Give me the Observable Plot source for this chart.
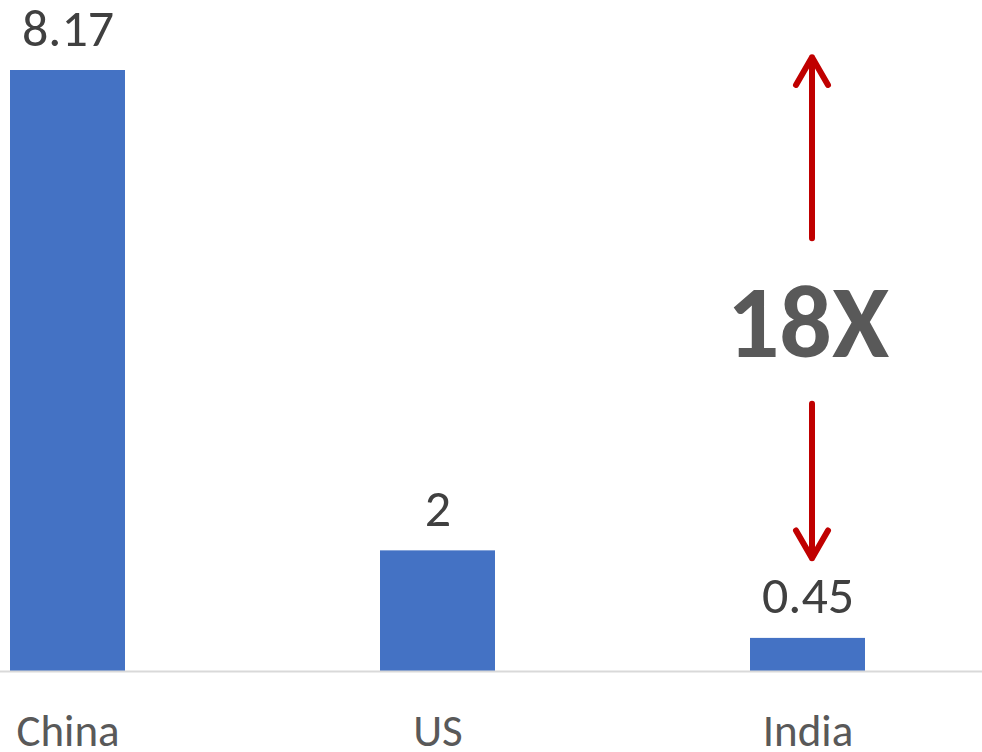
<!DOCTYPE html>
<html>
<head>
<meta charset="utf-8">
<script src="https://cdn.jsdelivr.net/npm/d3@7"></script>
<script src="https://cdn.jsdelivr.net/npm/@observablehq/plot@0.6"></script>
<style>
  html, body { margin: 0; padding: 0; background: #fff; }
  #chart svg { display: block; }
</style>
</head>
<body>
<div id="chart"></div>
<script>
// Categories and values
const categories = ["China", "US", "India"];
// bar heights as drawn in the reference
const barValues = [8.17, 1.64, 0.45];
// value labels as printed on the reference
const valueLabels = ["8.17", "2", "0.45"];

// Annotation (in data units, placed at the India category)
const annotationLabel = ["18X"];
const annotationY = [4.73];
const arrowFrom = [5.89, 3.64];
const arrowTo = [8.35, 1.54];

const bars = categories.map((c, i) => ({category: c, value: barValues[i], label: valueLabels[i]}));
const arrows = arrowFrom.map((f, i) => ({category: "India", y1: f, y2: arrowTo[i]}));
const notes = annotationLabel.map((t, i) => ({category: "India", y: annotationY[i], text: t}));

const font = "Carlito, Calibri, Lato, sans-serif";

const chart = Plot.plot({
  width: 982,
  height: 752,
  marginTop: 70,
  marginBottom: 81,
  marginLeft: 0,
  marginRight: 0,
  style: {fontFamily: font, background: "#ffffff"},
  x: {domain: categories, paddingInner: 0.688, paddingOuter: 0.169, align: 0.076, label: null},
  y: {domain: [0, 8.17], axis: null},
  marks: [
    Plot.barY(bars, {x: "category", y: "value", fill: "#4472C4"}),
    Plot.ruleY([0], {stroke: "#D9D9D9", strokeWidth: 2}),
    Plot.text(bars, {x: "category", y: "value", text: "label", lineAnchor: "bottom", dy: -25, fontSize: 52, fill: "#404040"}),
    Plot.axisX({tickSize: 0, tickPadding: 43, fontSize: 45, color: "#595959", label: null}),
    Plot.arrow(arrows, {x: "category", y1: "y1", y2: "y2", stroke: "#C00000", strokeWidth: 6, dx: 4, headLength: 8, headAngle: 60}),
    Plot.text(notes, {x: "category", y: "y", text: "text", fontSize: 104, fontWeight: "bold", fill: "#595959", lineAnchor: "middle"})
  ]
});

document.getElementById("chart").appendChild(chart);
</script>
</body>
</html>
